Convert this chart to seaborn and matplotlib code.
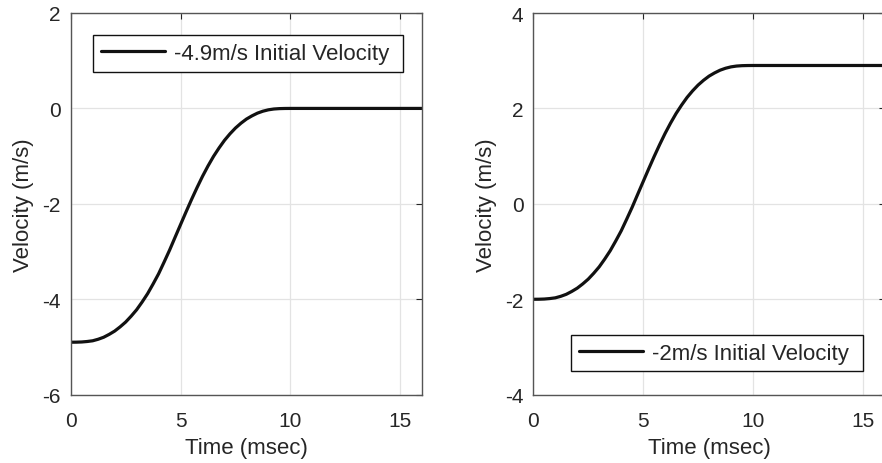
import matplotlib
matplotlib.use("Agg")
import matplotlib.pyplot as plt
import seaborn as sns
import pandas as pd

# ---- data ----
time_ms = [0, 0.25, 0.5, 0.75, 1.0, 1.25, 1.5, 1.75, 2.0, 2.25, 2.5, 2.75,
           3.0, 3.25, 3.5, 3.75, 4.0, 4.25, 4.5, 4.75, 5.0, 5.25, 5.5, 5.75,
           6.0, 6.25, 6.5, 6.75, 7.0, 7.25, 7.5, 7.75, 8.0, 8.25, 8.5, 8.75,
           9.0, 9.25, 9.5, 9.75, 10.0, 16.0]
vel_a = [-4.900, -4.899, -4.895, -4.885, -4.870, -4.838, -4.796, -4.736,
         -4.667, -4.578, -4.478, -4.355, -4.220, -4.058, -3.883, -3.680,
         -3.467, -3.222, -2.971, -2.702, -2.435, -2.169, -1.909, -1.660,
         -1.423, -1.206, -1.006, -0.830, -0.669, -0.532, -0.411, -0.310,
         -0.223, -0.156, -0.099, -0.058, -0.029, -0.012, -0.004, -0.001,
         0.000, 0.000]
vel_b = [-2.000, -1.999, -1.995, -1.985, -1.970, -1.938, -1.896, -1.836,
         -1.767, -1.678, -1.578, -1.455, -1.320, -1.158, -0.983, -0.780,
         -0.567, -0.322, -0.071, 0.198, 0.465, 0.731, 0.991, 1.240,
         1.477, 1.694, 1.894, 2.070, 2.231, 2.368, 2.489, 2.590,
         2.677, 2.744, 2.801, 2.842, 2.871, 2.888, 2.896, 2.899,
         2.900, 2.900]
label_a = "-4.9m/s Initial Velocity"
label_b = "-2m/s Initial Velocity"
xticks = [0, 5, 10, 15]
yticks_a = [-6, -4, -2, 0, 2]
yticks_b = [-4, -2, 0, 2, 4]
xlabel = "Time (msec)"
ylabel = "Velocity (m/s)"

sns.set_theme(style="whitegrid")
plt.rcParams["font.family"] = ["Liberation Sans", "DejaVu Sans"]
plt.rcParams["axes.unicode_minus"] = False

df_a = pd.DataFrame({"t": time_ms, "v": vel_a})
df_b = pd.DataFrame({"t": time_ms, "v": vel_b})

fig = plt.figure(figsize=(8.82, 4.64), dpi=100)
fig.patch.set_facecolor("white")

W, H = 882.0, 464.0
ax_l = fig.add_axes([70.7 / W, 1 - 395.7 / H, 351.5 / W, 381.7 / H])
ax_r = fig.add_axes([533.3 / W, 1 - 395.7 / H, 351.5 / W, 381.7 / H])

specs = [
    (ax_l, df_a, label_a, yticks_a, ("upper left", (0.064, 0.942))),
    (ax_r, df_b, label_b, yticks_b, ("lower right", (0.9375, 0.061))),
]

for ax, df, lab, yt, (loc, anchor) in specs:
    ax.set_facecolor("white")
    sns.lineplot(data=df, x="t", y="v", ax=ax, color="#111111", linewidth=2.3,
                 label=lab + " ", solid_joinstyle="round",
                 solid_capstyle="round")
    ax.set_xlim(0, 16)
    ax.set_ylim(yt[0], yt[-1])
    ax.set_xticks(xticks)
    ax.set_yticks(yt)
    ax.grid(True, color="#e3e3e3", linewidth=0.9)
    ax.tick_params(axis="both", which="both", direction="in", length=4,
                   width=0.8, color="#262626", labelsize=15, labelcolor="#262626",
                   top=True, right=True, pad=7)
    ax.tick_params(axis="x", pad=12)
    for s in ax.spines.values():
        s.set_color("#555555")
        s.set_linewidth(1.0)
        s.set_visible(True)
    ax.set_xlabel(xlabel, fontsize=16, color="#262626", labelpad=5)
    ax.set_ylabel(ylabel, fontsize=16, color="#262626", labelpad=6)
    leg = ax.legend(loc=loc, bbox_to_anchor=anchor, fontsize=16, frameon=True,
                    fancybox=False, framealpha=1, edgecolor="#111111",
                    handlelength=2.9, handletextpad=0.4, borderpad=0.35,
                    borderaxespad=0)
    leg.get_frame().set_linewidth(1.0)

fig.savefig("out.png", dpi=100, facecolor="white")
